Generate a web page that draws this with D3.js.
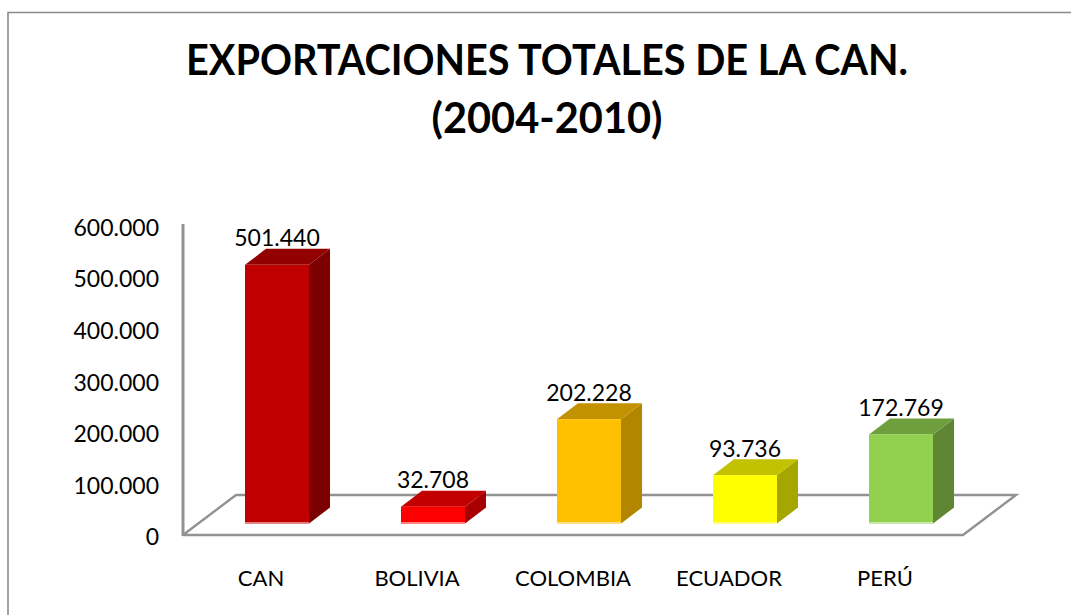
<!DOCTYPE html>
<html><head><meta charset="utf-8">
<script src="https://cdn.jsdelivr.net/npm/d3@7"></script>
<style>html,body{margin:0;padding:0;background:#fff}svg{display:block}text{font-family:Lato,"Noto Sans",sans-serif;fill:#000}</style>
</head><body><svg id="c" width="1071" height="615"></svg>
<script>
const categories = ["CAN","BOLIVIA","COLOMBIA","ECUADOR","PERÚ"];
const values = [501440,32708,202228,93736,172769];
const valueLabels = ["501.440","32.708","202.228","93.736","172.769"];
const yTicks = [0,100000,200000,300000,400000,500000,600000];
const titleLines = ["EXPORTACIONES TOTALES DE LA CAN.","(2004-2010)"];
const frontColors = ["#C00000","#FF0000","#FFC000","#FFFF00","#92D050"];
const sideColors = ["#7C0000","#A60000","#B38600","#A6A600","#5F8733"];
const topColors = ["#920000","#C20000","#C29200","#C2C200","#6F9E3D"];
const baseColors = ["#E58080","#FF8080","#FFDF80","#FFFF80","#C9E8A8"];

const W=1071,H=615,grey="#929292";
const svg=d3.select("#c");
const fmt=d=>d===0?"0":d3.format(",.3f")(d/1000).replace(/,/g,".");

// frame
svg.append("path").attr("d",d3.line()([[W,12.5],[8,12.5],[8,H]])).attr("fill","none").attr("stroke","#8a8a8a").attr("stroke-width",1.6);

// title
const titleWidths=[722,231];
svg.append("g").selectAll("text").data(titleLines).join("text")
 .attr("x",547).attr("y",(d,i)=>75+i*58).attr("text-anchor","middle").attr("font-weight",700).attr("font-size",41.5)
 .attr("textLength",(d,i)=>titleWidths[i]).attr("lengthAdjust","spacingAndGlyphs").text(d=>d);

const x=d3.scaleBand().domain(categories).range([183,963]);
const y=d3.scaleLinear().domain([0,600000]).range([535,225.5]);
const depthX=21,depthY=-16,floorDX=53,floorDY=-40,barShift=16,barBaseLift=11.5,barW=64;

// floor
svg.append("path").attr("d",d3.line()([[183,535],[963,535],[963+floorDX,535+floorDY],[183+floorDX,535+floorDY],[183,535]]))
 .attr("fill","none").attr("stroke",grey).attr("stroke-width",2.4);
// y axis line
svg.append("path").attr("d",d3.line()([[183,224],[183,536]])).attr("fill","none").attr("stroke",grey).attr("stroke-width",3);

// y labels
const yAxis=d3.axisLeft(y).tickValues(yTicks).tickSize(0).tickPadding(24).tickFormat(fmt);
const gy=svg.append("g").attr("transform","translate(183,1.5)").call(yAxis);
gy.select(".domain").remove();
gy.selectAll("text").attr("font-size",23).attr("dy","0.36em").attr("font-family",'Lato,"Noto Sans",sans-serif');

// x labels
const xAxis=d3.axisBottom(x).tickSize(0).tickPadding(35);
const gx=svg.append("g").attr("transform","translate(0,535)").call(xAxis);
gx.select(".domain").remove();
gx.selectAll("text").attr("font-size",22).attr("font-family",'Lato,"Noto Sans",sans-serif');

// bars
const bars=svg.append("g").selectAll("g").data(categories).join("g");
const L=d=>x(d)+x.bandwidth()/2+barShift-barW/2;
const T=(d,i)=>y(values[i])-barBaseLift;
const B=y(0)-barBaseLift;
const poly=p=>d3.line()(p)+"Z";
bars.append("path").attr("fill",(d,i)=>sideColors[i]).attr("d",(d,i)=>{const l=L(d)+barW,t=T(d,i);
  return poly([[l,t],[l+depthX,t+depthY],[l+depthX,B+depthY],[l,B]]);});
bars.append("path").attr("fill",(d,i)=>topColors[i]).attr("d",(d,i)=>{const l=L(d),t=T(d,i);
  return poly([[l,t],[l+depthX,t+depthY],[l+barW+depthX,t+depthY],[l+barW,t]]);});
bars.append("rect").attr("x",L).attr("y",T).attr("width",barW).attr("height",(d,i)=>B-T(d,i)).attr("fill",(d,i)=>frontColors[i]);
bars.append("rect").attr("x",L).attr("y",B-1.5).attr("width",barW).attr("height",1.5).attr("fill",(d,i)=>baseColors[i]);
bars.append("text").attr("x",d=>L(d)+barW/2).attr("y",(d,i)=>T(d,i)-18.5).attr("text-anchor","middle").attr("font-size",23).text((d,i)=>valueLabels[i]);
</script></body></html>
